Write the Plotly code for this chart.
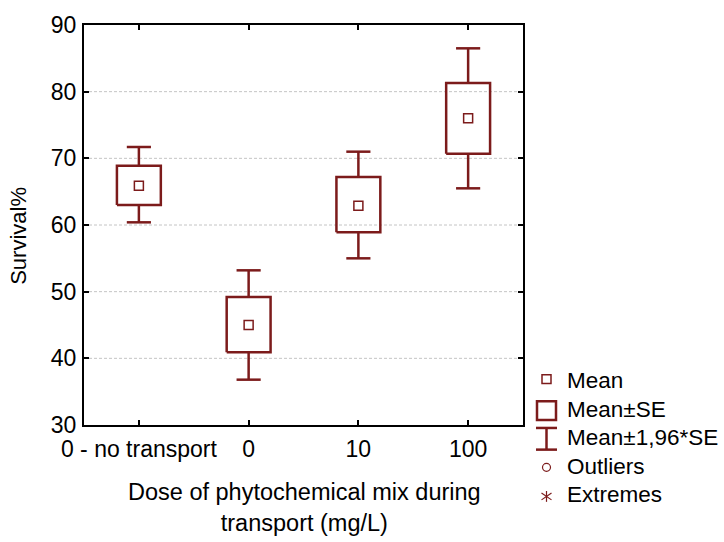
import plotly.graph_objects as go

# ---- data ----
categories = ["0 - no transport", "0", "10", "100"]
mean_vals = [65.9, 45.0, 62.9, 76.0]
se_low = [63.0, 40.9, 58.9, 70.7]
se_high = [68.9, 49.2, 67.2, 81.3]
ci_low = [60.4, 36.8, 55.0, 65.5]
ci_high = [71.7, 53.2, 71.0, 86.5]
y_ticks = [30, 40, 50, 60, 70, 80, 90]
legend_labels = ["Mean", "Mean±SE", "Mean±1,96*SE", "Outliers", "Extremes"]

# ---- style ----
RED = "#7c1b1b"
FONT = "Liberation Sans, Arial, sans-serif"
W, H = 724, 542
L, R, T, B = 84, 201, 19, 117
PW, PH = W - L - R, H - T - B
BOX_HW = 0.2
CAP_HW = 0.11

xs = list(range(len(categories)))

fig = go.Figure()

# boxes (mean ± SE)
bx, by = [], []
for i, lo, hi in zip(xs, se_low, se_high):
    bx += [i - BOX_HW, i + BOX_HW, i + BOX_HW, i - BOX_HW, i - BOX_HW, None]
    by += [lo, lo, hi, hi, lo, None]
fig.add_trace(go.Scatter(x=bx, y=by, mode="lines", line=dict(color=RED, width=2.5),
                         hoverinfo="skip", showlegend=False))

# whiskers (mean ± 1.96*SE)
wx, wy = [], []
for i, slo, shi, clo, chi in zip(xs, se_low, se_high, ci_low, ci_high):
    wx += [i, i, None, i, i, None]
    wy += [shi, chi, None, slo, clo, None]
    wx += [i - CAP_HW, i + CAP_HW, None, i - CAP_HW, i + CAP_HW, None]
    wy += [chi, chi, None, clo, clo, None]
fig.add_trace(go.Scatter(x=wx, y=wy, mode="lines", line=dict(color=RED, width=2.5),
                         hoverinfo="skip", showlegend=False))

# means
fig.add_trace(go.Scatter(x=xs, y=mean_vals, mode="markers",
                         marker=dict(symbol="square-open", size=9, color=RED,
                                     line=dict(width=1.5, color=RED)),
                         showlegend=False))

# gridlines (dotted)
shapes = []
for v in y_ticks[1:-1]:
    shapes.append(dict(type="line", xref="paper", yref="y", x0=0, x1=1, y0=v, y1=v,
                       line=dict(color="#c4c4c4", width=1, dash="3px,2px"), layer="below"))


def px(xp):
    return (xp - L) / PW


def py(yp):
    return (T + PH - yp) / PH


# custom legend
lx = 546.5
# Mean marker
shapes.append(dict(type="rect", xref="paper", yref="paper",
                   x0=px(lx - 4.5), x1=px(lx + 4.5), y0=py(383), y1=py(374),
                   line=dict(color=RED, width=1.5)))
# Mean±SE box
shapes.append(dict(type="rect", xref="paper", yref="paper",
                   x0=px(537), x1=px(556), y0=py(420), y1=py(401),
                   line=dict(color=RED, width=2.5)))
# Mean±1.96SE I-bar
shapes.append(dict(type="line", xref="paper", yref="paper",
                   x0=px(lx), x1=px(lx), y0=py(428), y1=py(450), line=dict(color=RED, width=2.5)))
for yy in (428, 450):
    shapes.append(dict(type="line", xref="paper", yref="paper",
                       x0=px(536), x1=px(557), y0=py(yy), y1=py(yy), line=dict(color=RED, width=2.5)))
# Outliers circle
shapes.append(dict(type="circle", xref="paper", yref="paper",
                   x0=px(lx - 4), x1=px(lx + 4), y0=py(472), y1=py(464),
                   line=dict(color=RED, width=1.2)))
# Extremes asterisk
cy = 497.5
shapes.append(dict(type="line", xref="paper", yref="paper",
                   x0=px(lx), x1=px(lx), y0=py(cy - 5.5), y1=py(cy + 5.5), line=dict(color=RED, width=1.2)))
shapes.append(dict(type="line", xref="paper", yref="paper",
                   x0=px(lx - 5), x1=px(lx + 5), y0=py(cy - 3.5), y1=py(cy + 3.5), line=dict(color=RED, width=1.2)))
shapes.append(dict(type="line", xref="paper", yref="paper",
                   x0=px(lx - 5), x1=px(lx + 5), y0=py(cy + 3.5), y1=py(cy - 3.5), line=dict(color=RED, width=1.2)))

annotations = []
for lab, yy in zip(legend_labels, [380, 409, 438, 467, 496]):
    annotations.append(dict(text=lab, x=px(565), y=py(yy), xref="paper", yref="paper",
                            xanchor="left", yanchor="middle", showarrow=False,
                            font=dict(family=FONT, size=22.5, color="#000000")))

# axis titles
annotations.append(dict(text="Survival%", x=px(19), y=py(233), xref="paper", yref="paper",
                        textangle=-90, xanchor="center", yanchor="middle", showarrow=False,
                        font=dict(family=FONT, size=22, color="#000000")))
annotations.append(dict(text="Dose of phytochemical mix during<br>transport (mg/L)",
                        x=px(304), y=py(509), xref="paper", yref="paper",
                        xanchor="center", yanchor="middle", showarrow=False,
                        font=dict(family=FONT, size=23.5, color="#000000")))

fig.update_layout(
    width=W, height=H,
    margin=dict(l=L, r=R, t=T, b=B, pad=0),
    plot_bgcolor="white", paper_bgcolor="white",
    font=dict(family=FONT, size=23, color="#000000"),
    shapes=shapes, annotations=annotations,
    showlegend=False,
)
fig.update_xaxes(range=[-0.5, 3.5], tickvals=xs, ticktext=categories,
                 showgrid=False, zeroline=False, showline=True, linecolor="black", linewidth=2,
                 mirror="ticks", ticks="inside", ticklen=5, tickwidth=2, tickcolor="black",
                 ticklabelstandoff=2,
                 tickfont=dict(family=FONT, size=23, color="#000000"))
fig.update_yaxes(range=[30, 90], tickvals=y_ticks,
                 showgrid=False, zeroline=False, showline=True, linecolor="black", linewidth=2,
                 mirror="ticks", ticks="inside", ticklen=5, tickwidth=2, tickcolor="black",
                 ticklabelstandoff=1,
                 tickfont=dict(family=FONT, size=23, color="#000000"))

fig.write_html("out.html")
